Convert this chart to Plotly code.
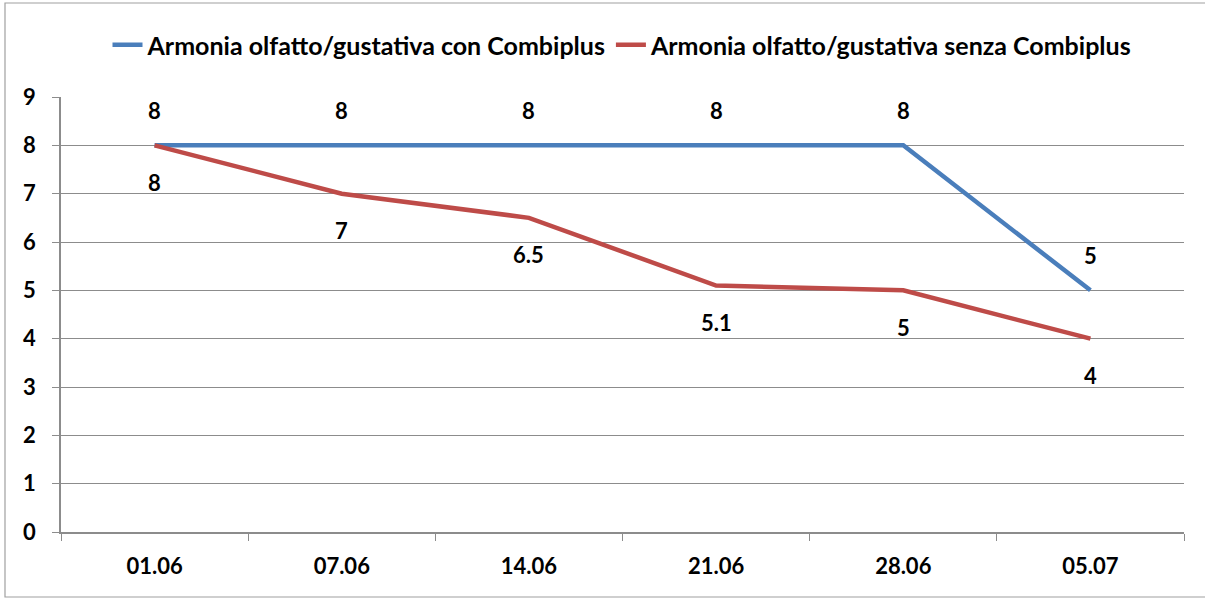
import plotly.graph_objects as go

categories = ["01.06", "07.06", "14.06", "21.06", "28.06", "05.07"]
con_values = [8, 8, 8, 8, 8, 5]
senza_values = [8, 7, 6.5, 5.1, 5, 4]
series_names = ["Armonia olfatto/gustativa con Combiplus",
                "Armonia olfatto/gustativa senza Combiplus"]
y_ticks = list(range(0, 10))

BLUE = "#4A7EBB"
RED = "#BE4B48"
GRID = "#8C8C8C"
FONT = "Lato"
FS = 22

fig = go.Figure()
fig.add_trace(go.Scatter(x=categories, y=con_values, mode="lines", name=series_names[0],
                         line=dict(color=BLUE, width=4.5)))
fig.add_trace(go.Scatter(x=categories, y=senza_values, mode="lines", name=series_names[1],
                         line=dict(color=RED, width=4.5)))

annotations = []
for i, v in enumerate(con_values):
    annotations.append(dict(x=i, y=v, xref="x", yref="y", text=f"{v:g}", showarrow=False, yshift=35,
                            font=dict(family=FONT, size=FS, color="black", weight="bold")))
for i, v in enumerate(senza_values):
    annotations.append(dict(x=i, y=v, xref="x", yref="y", text=f"{v:g}", showarrow=False, yshift=-37,
                            font=dict(family=FONT, size=FS, color="black", weight="bold")))

W, H = 1205, 598
L, R, T, B = 61, 21, 97, 66
pw, ph = W - L - R, H - T - B

def px2paper_x(px):
    return (px - L) / pw

def px2paper_y(py):
    return (H - B - py) / ph

fig.update_layout(
    width=W, height=H,
    margin=dict(l=L, r=R, t=T, b=B, autoexpand=False),
    plot_bgcolor="white", paper_bgcolor="white",
    font=dict(family=FONT, size=FS, color="black", weight="bold"),
    showlegend=True,
    legend=dict(orientation="h", x=0.5, xanchor="center", y=px2paper_y(45), yanchor="middle",
                font=dict(family=FONT, size=25, color="black", weight="bold"),
                tracegroupgap=0),
    annotations=annotations,
    xaxis=dict(type="category", showgrid=False, tickson="boundaries", ticks="outside",
               ticklen=7, tickcolor=GRID, showline=True, linecolor=GRID, linewidth=1.5,
               range=[-0.5, 5.5], tickfont=dict(family=FONT, size=FS, weight="bold"),
               ticklabelstandoff=14, automargin=False),
    yaxis=dict(range=[0, 9], tickvals=y_ticks, showgrid=True, gridcolor=GRID, gridwidth=1.3,
               ticks="outside", ticklen=7, tickcolor=GRID, showline=True, linecolor=GRID,
               linewidth=1.5, zeroline=False, automargin=False,
               tickfont=dict(family=FONT, size=FS, weight="bold"), ticklabelstandoff=12),
    shapes=[dict(type="rect", xref="paper", yref="paper",
                 x0=px2paper_x(5), x1=px2paper_x(1215), y0=px2paper_y(597), y1=px2paper_y(3),
                 line=dict(color="#A0A0A0", width=1.2), fillcolor="rgba(0,0,0,0)", layer="below")],
)

fig.write_html("out.html", config={"displayModeBar": False},
               post_script="document.body.style.margin='0';document.body.style.overflow='hidden';")
